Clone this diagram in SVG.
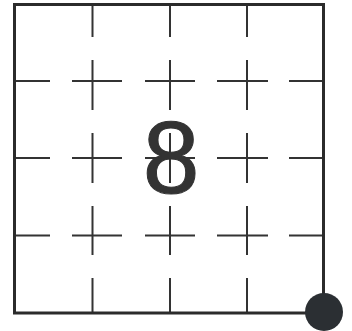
<svg xmlns="http://www.w3.org/2000/svg" width="352" height="331" viewBox="0 0 352 331">
<style>
.bg{fill:#ffffff}
.frame{fill:none;stroke:#2b2b2b;stroke-width:3}
.gv{stroke:#333;stroke-width:2;fill:none;stroke-dasharray:33 23 50 23 50 23 49 23 40}
.gh{stroke:#333;stroke-width:2;fill:none;stroke-dasharray:36 22 50 23 50 22 51 21 40}
.num{font-family:"Liberation Sans",Arial,sans-serif;font-size:102px;fill:#333;stroke:#333;stroke-width:1;text-anchor:middle}
.dot{fill:#2b2f33}
</style>
<rect class="bg" x="0" y="0" width="352" height="331"/>
<g id="grid">
<line class="gv" x1="92.5" y1="4" x2="92.5" y2="313"/>
<line class="gv" x1="170" y1="4" x2="170" y2="313"/>
<line class="gv" x1="247" y1="4" x2="247" y2="313"/>
<line class="gh" x1="14" y1="81" x2="323" y2="81"/>
<line class="gh" x1="14" y1="158" x2="323" y2="158"/>
<line class="gh" x1="14" y1="235.5" x2="323" y2="235.5"/>
</g>
<g id="frame">
<rect class="frame" x="14.5" y="4.5" width="309" height="308.5"/>
</g>
<g id="label">
<text class="num" x="171" y="192.5">8</text>
</g>
<g id="corner-dot">
<circle class="dot" cx="324" cy="312" r="19"/>
</g>
</svg>
